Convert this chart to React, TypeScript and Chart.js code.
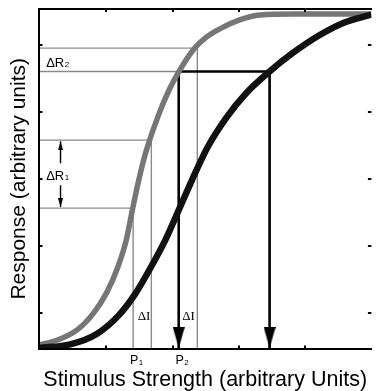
import React, { useEffect, useRef } from 'react';
import { Chart, registerables } from 'chart.js';

Chart.register(...registerables);

// ---- data (stimulus in arbitrary units, response 0..1) ----
const grayCurveX = [-0.018, 0.263, 0.558, 0.808, 1.0, 1.173, 1.299, 1.391, 1.487, 1.59, 1.796, 1.944, 2.091, 2.327, 2.504, 2.726, 3.021, 3.316, 3.832, 5.0];
const grayCurveY = [0.005, 0.02, 0.05, 0.101, 0.16, 0.238, 0.318, 0.408, 0.497, 0.578, 0.697, 0.766, 0.821, 0.891, 0.924, 0.951, 0.977, 0.991, 0.994, 0.994];

const blackCurveX = [-0.018, 0.454, 0.853, 1.192, 1.442, 1.664, 1.885, 2.091, 2.283, 2.519, 2.814, 3.109, 3.463, 3.803, 4.201, 4.584, 5.0];
const blackCurveY = [-0.004, 0.007, 0.038, 0.095, 0.16, 0.235, 0.317, 0.408, 0.494, 0.593, 0.685, 0.757, 0.822, 0.876, 0.929, 0.968, 0.992];

// stimulus levels: P1, P1+ΔI, P2, P2+ΔI
const stimulusLevels = [1.403, 1.678, 2.091, 2.372];
// gray-curve responses at those stimulus levels
const responseLevels = [0.414, 0.617, 0.822, 0.892];
// stimulus where the black curve reaches R(P2)
const matchStimulus = 3.463;
// ΔR1 double arrow (start, tip) responses
const deltaR1Up = [0.548, 0.6136];
const deltaR1Down = [0.482, 0.417];
const deltaR1ArrowX = 0.307;

const xTickValues = [1, 2, 3, 4];
const yTickValues = [0.1, 0.3, 0.5, 0.7, 0.9];

const X_MIN = -0.018;
const X_MAX = 5.0;
const Y_MIN = -0.007;
const Y_MAX = 1.01;
const ARROW_TIP = -0.004;

const SANS = 'Liberation Sans, Arial, sans-serif';
const SERIF = 'Liberation Serif, Times New Roman, serif';

function makeHead(w: number, h: number, dir: 'up' | 'down') {
  const c = document.createElement('canvas');
  c.width = w;
  c.height = h * 2;
  const g = c.getContext('2d')!;
  g.fillStyle = '#000';
  g.beginPath();
  if (dir === 'down') {
    g.moveTo(0, 0);
    g.lineTo(w, 0);
    g.lineTo(w / 2, h);
  } else {
    g.moveTo(w / 2, h);
    g.lineTo(w, 2 * h);
    g.lineTo(0, 2 * h);
  }
  g.closePath();
  g.fill();
  return c;
}

const tickMarksPlugin = {
  id: 'tickMarks',
  afterDraw(chart: any) {
    const { ctx, chartArea: a, scales } = chart;
    const x = scales.x;
    const y = scales.y;
    ctx.save();
    ctx.strokeStyle = '#000';
    ctx.lineWidth = 2;
    const seg = (x1: number, y1: number, x2: number, y2: number) => {
      ctx.beginPath();
      ctx.moveTo(x1, y1);
      ctx.lineTo(x2, y2);
      ctx.stroke();
    };
    x.ticks.forEach((t: any) => {
      const px = Math.round(x.getPixelForValue(t.value));
      seg(px, a.bottom, px, a.bottom - 3.5);
      seg(px, a.top, px, a.top + 3.5);
    });
    y.ticks.forEach((t: any) => {
      const py = Math.round(y.getPixelForValue(t.value));
      seg(a.left, py, a.left + 3.5, py);
      seg(a.right, py, a.right - 3.5, py);
    });
    ctx.restore();
  },
};

const labelsPlugin = {
  id: 'figureLabels',
  afterDatasetsDraw(chart: any) {
    const { ctx, scales } = chart;
    const x = scales.x;
    const y = scales.y;
    ctx.save();
    ctx.fillStyle = '#000';
    ctx.textBaseline = 'alphabetic';

    const withSub = (main: string, sub: string, px: number, py: number, size: number, align: 'left' | 'center', subDrop: number) => {
      ctx.font = `${size}px ${SANS}`;
      const w = ctx.measureText(main).width;
      let left = px;
      if (align === 'center') left = px - w / 2;
      ctx.textAlign = 'left';
      ctx.fillText(main, left, py);
      ctx.font = `${Math.round(size * 0.6)}px ${SANS}`;
      ctx.fillText(sub, left + w + 0.5, py + subDrop);
    };

    withSub('ΔR', '2', x.getPixelForValue(0.09), y.getPixelForValue(0.8342), 13, 'left', 0);
    withSub('ΔR', '1', x.getPixelForValue(0.09), y.getPixelForValue(0.4973), 13, 'left', 0);

    ctx.font = `13px ${SERIF}`;
    ctx.textAlign = 'center';
    ctx.fillText('ΔI', x.getPixelForValue(1.568), y.getPixelForValue(0.08));
    ctx.fillText('ΔI', x.getPixelForValue(2.239), y.getPixelForValue(0.08));

    withSub('P', '1', x.getPixelForValue(stimulusLevels[0]) + 1, y.getPixelForValue(-0.0513), 12.5, 'center', 1);
    withSub('P', '2', x.getPixelForValue(stimulusLevels[2]) + 1, y.getPixelForValue(-0.0513), 12.5, 'center', 1.5);
    ctx.restore();
  },
};

function pts(xs: number[], ys: number[]) {
  return xs.map((v, i) => ({ x: v, y: ys[i] }));
}

export default function App() {
  const ref = useRef<HTMLCanvasElement>(null);

  useEffect(() => {
    document.body.style.margin = '0';
    const canvas = ref.current;
    if (!canvas) return;

    const bigHead = makeHead(12, 21, 'down');
    const smallDown = makeHead(5, 9, 'down');
    const smallUp = makeHead(5, 9, 'up');

    const [p1, p1d, p2, p2d] = stimulusLevels;
    const [r1, r1d, r2, r2d] = responseLevels;

    const guideData: any[] = [
      { x: X_MIN, y: r1 }, { x: p1, y: r1 }, { x: p1, y: Y_MIN },
      { x: p1, y: null },
      { x: X_MIN, y: r1d }, { x: p1d, y: r1d }, { x: p1d, y: Y_MIN },
      { x: p1d, y: null },
      { x: X_MIN, y: r2d }, { x: p2d, y: r2d }, { x: p2d, y: Y_MIN },
      { x: p2d, y: null },
      { x: X_MIN, y: r2 }, { x: p2, y: r2 },
    ];

    const lineBase = { pointRadius: 0, fill: false, tension: 0, borderCapStyle: 'butt', borderJoinStyle: 'miter' };

    const chart = new Chart(canvas, {
      type: 'line',
      data: {
        datasets: [
          {
            ...lineBase,
            label: 'black',
            data: pts(blackCurveX, blackCurveY),
            borderColor: '#111111',
            borderWidth: 6.5,
            cubicInterpolationMode: 'monotone',
          },
          {
            ...lineBase,
            label: 'gray',
            data: pts(grayCurveX, grayCurveY),
            borderColor: '#767676',
            borderWidth: 5.5,
            cubicInterpolationMode: 'monotone',
          },
          {
            ...lineBase,
            label: 'match',
            data: [{ x: p2, y: r2 }, { x: matchStimulus, y: r2 }],
            borderColor: '#000',
            borderWidth: 2.6,
          },
          {
            ...lineBase,
            label: 'arrowP2',
            data: [{ x: p2, y: r2 }, { x: p2, y: ARROW_TIP }],
            borderColor: '#000',
            borderWidth: 2.6,
            pointRadius: [0, 6],
            pointStyle: [bigHead, bigHead],
          },
          {
            ...lineBase,
            label: 'arrowMatch',
            data: [{ x: matchStimulus, y: r2 }, { x: matchStimulus, y: ARROW_TIP }],
            borderColor: '#000',
            borderWidth: 2.6,
            pointRadius: [0, 6],
            pointStyle: [bigHead, bigHead],
          },
          {
            ...lineBase,
            label: 'dR1up',
            data: [{ x: deltaR1ArrowX, y: deltaR1Up[0] }, { x: deltaR1ArrowX, y: deltaR1Up[1] }],
            borderColor: '#000',
            borderWidth: 1.4,
            pointRadius: [0, 3],
            pointStyle: [smallUp, smallUp],
          },
          {
            ...lineBase,
            label: 'dR1down',
            data: [{ x: deltaR1ArrowX, y: deltaR1Down[0] }, { x: deltaR1ArrowX, y: deltaR1Down[1] }],
            borderColor: '#000',
            borderWidth: 1.4,
            pointRadius: [0, 3],
            pointStyle: [smallDown, smallDown],
          },
          {
            ...lineBase,
            label: 'guides',
            data: guideData,
            borderColor: '#8a8a8a',
            borderWidth: 1.4,
            spanGaps: false,
          },
        ],
      } as any,
      options: {
        animation: false,
        responsive: false,
        events: [],
        layout: { padding: { left: 0, top: 8, right: 1, bottom: 0 } },
        plugins: { legend: { display: false }, tooltip: { enabled: false } },
        scales: {
          x: {
            type: 'linear',
            position: 'bottom',
            min: X_MIN,
            max: X_MAX,
            afterBuildTicks: (s: any) => { s.ticks = xTickValues.map((v) => ({ value: v })); },
            ticks: { display: false },
            grid: { display: false, drawTicks: false, drawOnChartArea: false },
            border: { display: true, color: '#000', width: 2, z: 1 },
            title: {
              display: true,
              text: 'Stimulus Strength (arbitrary Units)',
              color: '#000',
              font: { family: SANS, size: 21.5, lineHeight: 1 },
              padding: { top: 20.5, bottom: 0 },
            },
          },
          xTop: {
            type: 'linear',
            position: 'top',
            display: true,
            min: X_MIN,
            max: X_MAX,
            ticks: { display: false },
            grid: { display: false, drawTicks: false, drawOnChartArea: false },
            border: { display: true, color: '#000', width: 2, z: 1 },
          },
          y: {
            type: 'linear',
            position: 'left',
            min: Y_MIN,
            max: Y_MAX,
            afterBuildTicks: (s: any) => { s.ticks = yTickValues.map((v) => ({ value: v })); },
            ticks: { display: false },
            grid: { display: false, drawTicks: false, drawOnChartArea: false },
            border: { display: true, color: '#000', width: 2, z: 1 },
            title: {
              display: true,
              text: 'Response (arbitrary units)',
              color: '#000',
              font: { family: SANS, size: 21, lineHeight: 1 },
              padding: { top: 9, bottom: 9 },
            },
          },
        },
      } as any,
      plugins: [labelsPlugin, tickMarksPlugin],
    });

    return () => chart.destroy();
  }, []);

  return (
    <div style={{ width: 378, height: 391, overflow: 'hidden' }}>
      <canvas ref={ref} width={380} height={391} style={{ display: 'block', width: 380, height: 391 }} />
    </div>
  );
}
